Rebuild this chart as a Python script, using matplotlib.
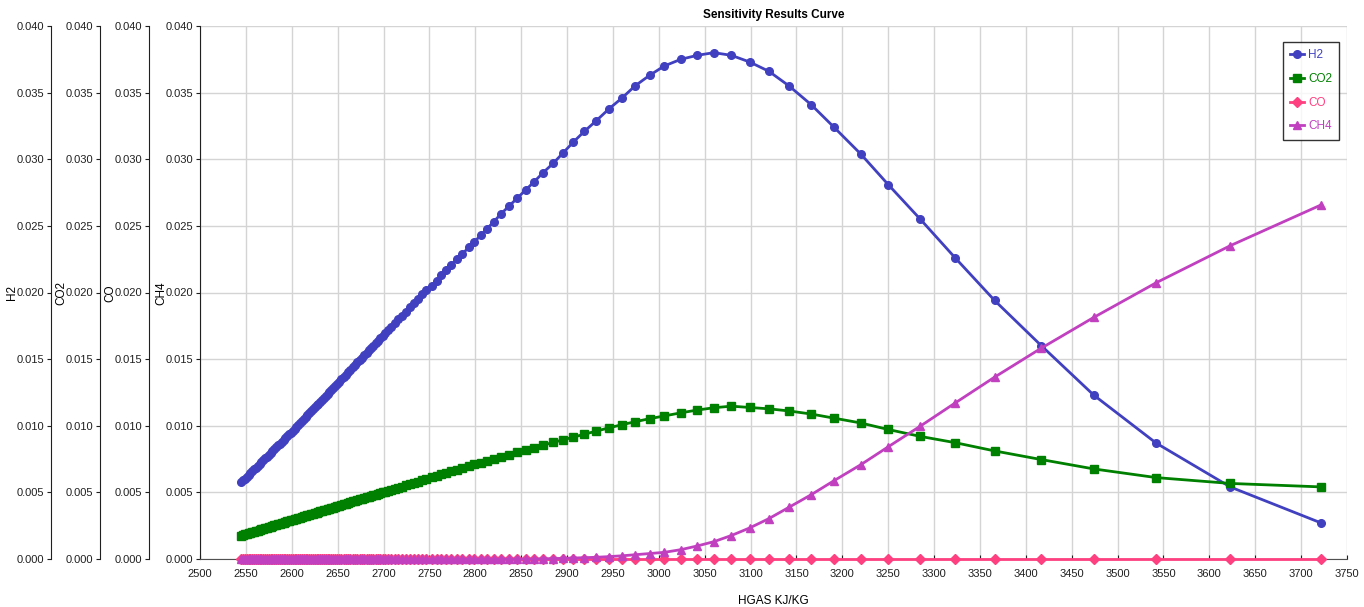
import numpy as np
import matplotlib
matplotlib.use("Agg")
import matplotlib.pyplot as plt

plt.rcParams['font.family'] = ['Liberation Sans Narrow', 'Liberation Sans', 'DejaVu Sans']

# HGAS sample points (dense at low end, sparse at high end)
hgas = [2545, 2547, 2549, 2551, 2553, 2555, 2557, 2559, 2561, 2563, 2565, 2567, 2569, 2571,
        2573, 2575, 2577, 2579, 2581, 2583, 2585, 2587, 2589, 2591, 2593, 2595, 2597, 2599,
        2601, 2603, 2605, 2607, 2609, 2611, 2613, 2615, 2617, 2619, 2621, 2623, 2625, 2627,
        2629, 2631, 2633, 2635, 2637, 2639, 2641, 2643, 2645, 2647, 2649,
        2651.5, 2654, 2656.5, 2659, 2661.5, 2664, 2666.5, 2669, 2671.5, 2674, 2676.5, 2679,
        2681.5, 2684, 2686.5, 2689, 2691.5, 2694, 2696.5, 2699, 2701.5,
        2705, 2708.5, 2712, 2716, 2720, 2724, 2728.5, 2733, 2737.5, 2742,
        2746, 2752.5, 2758, 2763, 2768, 2774, 2780, 2786, 2793, 2799, 2806, 2813, 2820,
        2828, 2837, 2846, 2855, 2864, 2874, 2885, 2896, 2907, 2919, 2932, 2946, 2960,
        2974, 2990, 3006, 3024, 3042, 3060, 3079, 3099, 3120, 3142, 3166, 3191, 3220,
        3250, 3285, 3323, 3366, 3417, 3474, 3542, 3623, 3722]

h2 = [0.00576, 0.00590, 0.00604, 0.00617, 0.00631, 0.00645, 0.00659, 0.00673, 0.00686,
      0.00700, 0.00714, 0.00728, 0.00742, 0.00755, 0.00769, 0.00783, 0.00797, 0.00811,
      0.00824, 0.00838, 0.00852, 0.00866, 0.00880, 0.00893, 0.00907, 0.00921, 0.00935,
      0.00949,
      0.00963, 0.00978, 0.00992, 0.01007, 0.01021, 0.01036, 0.01050, 0.01065, 0.01079,
      0.01094, 0.01108, 0.01123, 0.01137, 0.01152, 0.01166, 0.01181, 0.01195, 0.01210,
      0.01224, 0.01239, 0.01254, 0.01268, 0.01283, 0.01297, 0.01312,
      0.01330, 0.01348, 0.01366, 0.01384, 0.01403, 0.01421, 0.01439, 0.01457, 0.01475,
      0.01493, 0.01511, 0.01530, 0.01548, 0.01566, 0.01584, 0.01602, 0.01620, 0.01638,
      0.01657, 0.01675, 0.01693,
      0.01718, 0.01744, 0.01769, 0.01798, 0.01827, 0.01856, 0.01889, 0.01922, 0.01954,
      0.01987,
      0.0202, 0.0205, 0.0209, 0.0213, 0.0217, 0.0221, 0.0225, 0.0229, 0.0234, 0.0238,
      0.0243, 0.0248, 0.0253, 0.0259, 0.0265, 0.0271, 0.0277, 0.0283, 0.0290, 0.0297,
      0.0305, 0.0313, 0.0321, 0.0329, 0.0338, 0.0346, 0.0355, 0.0363, 0.0370, 0.0375,
      0.0378, 0.0380, 0.0378, 0.0373, 0.0366, 0.0355, 0.0341, 0.0324, 0.0304, 0.0281,
      0.0255, 0.0226, 0.0194, 0.0160, 0.0123, 0.0087, 0.0054, 0.0027]

co2 = [0.00175, 0.00179, 0.00184, 0.00188, 0.00192, 0.00196, 0.00201, 0.00205, 0.00209,
       0.00213, 0.00218, 0.00222, 0.00226, 0.00230, 0.00235, 0.00239, 0.00243, 0.00247,
       0.00252, 0.00256, 0.00260, 0.00264, 0.00269, 0.00273, 0.00277, 0.00282, 0.00286,
       0.00290,
       0.00294, 0.00298, 0.00302, 0.00306, 0.00311, 0.00315, 0.00319, 0.00323, 0.00328,
       0.00332, 0.00336, 0.00340, 0.00344, 0.00348, 0.00353, 0.00357, 0.00361, 0.00365,
       0.00370, 0.00374, 0.00378, 0.00382, 0.00386, 0.00390, 0.00395,
       0.00400, 0.00405, 0.00411, 0.00416, 0.00421, 0.00426, 0.00432, 0.00437, 0.00442,
       0.00447, 0.00453, 0.00458, 0.00463, 0.00468, 0.00474, 0.00479, 0.00484, 0.00489,
       0.00495, 0.00500, 0.00505,
       0.00513, 0.00520, 0.00527, 0.00536, 0.00544, 0.00552, 0.00562, 0.00571, 0.00581,
       0.00590,
       0.00599, 0.00612, 0.00624, 0.00635, 0.00645, 0.00658, 0.00670, 0.00683, 0.00697,
       0.00710, 0.00724, 0.00737, 0.00751, 0.00767, 0.00784, 0.00802, 0.00819, 0.00836,
       0.00855, 0.00875, 0.00895, 0.00915, 0.00937, 0.00960, 0.00985, 0.01008, 0.01030,
       0.01053, 0.01074, 0.01097, 0.01118, 0.01135, 0.01147, 0.01137, 0.01127, 0.01111,
       0.01088, 0.01057, 0.01021, 0.00972, 0.00920, 0.00873, 0.00811, 0.00746, 0.00676,
       0.00611, 0.00567, 0.00541]

co = [0.0] * len(hgas)

ch4 = [0.0] * 102 + [0.00002, 0.00003, 0.00005, 0.00007, 0.00010, 0.00013, 0.00018,
                     0.00024, 0.00032, 0.00041, 0.00050, 0.00070, 0.00098, 0.00130,
                     0.00176, 0.00233, 0.00303, 0.00389, 0.00482, 0.00588, 0.00707,
                     0.00842, 0.00997, 0.01171, 0.01365, 0.01583, 0.01813, 0.02073,
                     0.02352, 0.02658]

series = [("H2", h2, "#4040C0", "o", 5.5),
          ("CO2", co2, "#008000", "s", 5.5),
          ("CO", co, "#FF4080", "D", 5.0),
          ("CH4", ch4, "#C040C0", "^", 6.0)]

W, H = 1364, 607
fig = plt.figure(figsize=(W / 100, H / 100), dpi=100)
rect = [200 / W, 1 - 559 / H, 1147 / W, 533 / H]
ax = fig.add_axes(rect)

for name, vals, col, mk, ms in series:
    ax.plot(hgas, vals, color=col, lw=2, marker=mk, ms=ms, mec=col, label=name,
            clip_on=False, zorder=3)

fmt = matplotlib.ticker.FormatStrFormatter("%.3f")
ax.set_xlim(2500, 3750)
ax.set_ylim(0, 0.040)
ax.set_xticks(np.arange(2500, 3751, 50))
ax.set_yticks(np.arange(0, 0.0401, 0.005))
ax.yaxis.set_major_formatter(fmt)
ax.grid(color="#d4d4d4", lw=1)
ax.set_axisbelow(True)
for s in ["top", "right"]:
    ax.spines[s].set_visible(False)
ax.spines["left"].set_color("#202020")
ax.spines["bottom"].set_color("#505050")
ax.tick_params(axis="x", direction="in", length=3, labelsize=8, colors="#202020", pad=7)
ax.tick_params(axis="y", direction="out", length=3, labelsize=8, colors="#202020", pad=2)
ax.set_xlabel("HGAS KJ/KG", fontsize=8.5, labelpad=12)
ax.set_title("Sensitivity Results Curve", fontsize=8.5, fontweight="bold", pad=6)
ax.set_ylabel("CH4", fontsize=8.5)
ax.yaxis.set_label_coords(167 / W, 1 - 293 / H, transform=fig.transFigure)

# extra stacked y axes on the left
for name, off in [("CO", 51), ("CO2", 100), ("H2", 149)]:
    a = fig.add_axes(rect)
    a.patch.set_visible(False)
    a.set_ylim(0, 0.040)
    a.set_yticks(np.arange(0, 0.0401, 0.005))
    a.yaxis.set_major_formatter(fmt)
    a.xaxis.set_visible(False)
    for s in ["top", "right", "bottom"]:
        a.spines[s].set_visible(False)
    a.spines["left"].set_position(("outward", off * 0.72))
    a.spines["left"].set_color("#202020")
    a.tick_params(axis="y", direction="out", length=3, labelsize=8, colors="#202020", pad=2)
    a.set_ylabel(name, fontsize=8.5)
    a.yaxis.set_label_coords((200 - off - 33) / W, 1 - 293 / H, transform=fig.transFigure)

leg = ax.legend(loc="upper right", bbox_to_anchor=(1339 / W, 1 - 42 / H),
                bbox_transform=fig.transFigure, borderaxespad=0, fancybox=False,
                edgecolor="black", fontsize=8.5, labelcolor="linecolor",
                handlelength=1.2, handletextpad=0.3, borderpad=0.6, labelspacing=1.0)
leg.get_frame().set_linewidth(1.0)
leg.set_zorder(5)

fig.savefig("out.png", dpi=100)
